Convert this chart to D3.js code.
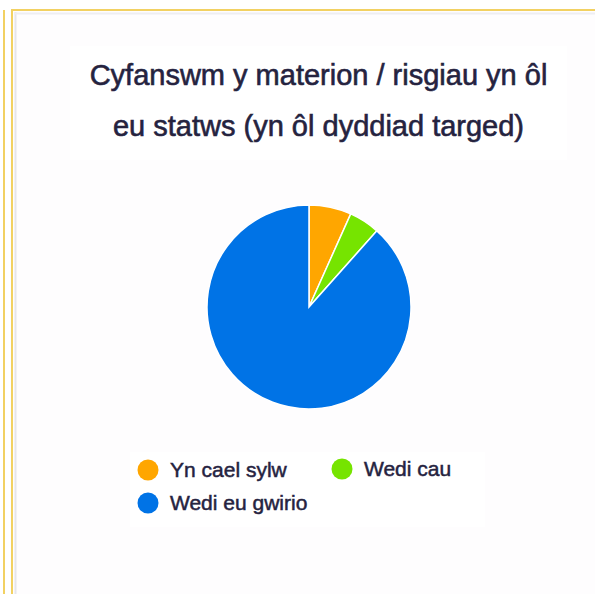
<!DOCTYPE html>
<html>
<head>
<meta charset="utf-8">
<title>Cyfanswm y materion / risgiau</title>
<script src="https://cdn.jsdelivr.net/npm/d3@7"></script>
<style>
body { margin: 0; background: #ffffff; }
svg { display: block; font-family: "Liberation Sans", Arial, sans-serif; }
</style>
</head>
<body>
<div id="chart"></div>
<script>
// data
var labels = ["Yn cael sylw", "Wedi cau", "Wedi eu gwirio"];
var values = [11, 8, 145];
var colors = ["#ffa600", "#76e400", "#0073e6"];
var titleLines = ["Cyfanswm y materion / risgiau yn ôl", "eu statws (yn ôl dyddiad targed)"];

var W = 595, H = 594;
var ink = "#25233f";
var svg = d3.select("#chart").append("svg")
    .attr("width", W)
    .attr("height", H);

// panel + yellow frame lines
svg.append("line")
    .attr("x1", 4).attr("x2", 4).attr("y1", 10).attr("y2", H)
    .attr("stroke", "#f2d162").attr("stroke-width", 2);
svg.append("rect")
    .attr("x", 12).attr("y", 10).attr("width", 700).attr("height", 700)
    .attr("fill", "#fefdfe")
    .attr("stroke", "#f2d162").attr("stroke-width", 2);
svg.append("line")   // faint inner shadow
    .attr("x1", 15.5).attr("x2", 15.5).attr("y1", 12).attr("y2", H)
    .attr("stroke", "#e6e6ea").attr("stroke-width", 2);
svg.append("line")
    .attr("x1", 14).attr("x2", W).attr("y1", 13.5).attr("y2", 13.5)
    .attr("stroke", "#eeeef2").attr("stroke-width", 2);

// title block
svg.append("rect")
    .attr("x", 70).attr("y", 46).attr("width", 497).attr("height", 114)
    .attr("fill", "#ffffff");
svg.selectAll(".title")
    .data(titleLines)
    .enter().append("text")
    .attr("class", "title")
    .attr("x", 318.5)
    .attr("y", function(d, i) { return 85 + i * 51; })
    .attr("text-anchor", "middle")
    .attr("fill", ink)
    .attr("stroke", ink)
    .attr("stroke-width", 0.6)
    .style("font-size", "29px")
    .text(function(d) { return d; });

// pie
var cx = 309, cy = 307, r = 102;
var pie = d3.pie().sort(null).value(function(d) { return d; });
var arc = d3.arc().innerRadius(0).outerRadius(r);

var g = svg.append("g").attr("transform", "translate(" + cx + "," + cy + ")");
g.selectAll("path")
    .data(pie(values))
    .enter().append("path")
    .attr("d", arc)
    .attr("fill", function(d, i) { return colors[i]; })
    .attr("stroke", "#ffffff")
    .attr("stroke-width", 1.5);

// legend
var legendPos = [[148, 470], [342, 469], [148, 503]];
svg.append("rect")
    .attr("x", 130).attr("y", 452).attr("width", 355).attr("height", 75)
    .attr("fill", "#ffffff");
var leg = svg.selectAll(".leg")
    .data(labels)
    .enter().append("g")
    .attr("class", "leg")
    .attr("transform", function(d, i) { return "translate(" + legendPos[i][0] + "," + legendPos[i][1] + ")"; });
leg.append("circle")
    .attr("r", 10.5)
    .attr("fill", function(d, i) { return colors[i]; });
leg.append("text")
    .attr("x", 22)
    .attr("y", 7)
    .attr("fill", ink)
    .attr("stroke", ink)
    .attr("stroke-width", 0.5)
    .style("font-size", "21px")
    .text(function(d) { return d; });
</script>
</body>
</html>
